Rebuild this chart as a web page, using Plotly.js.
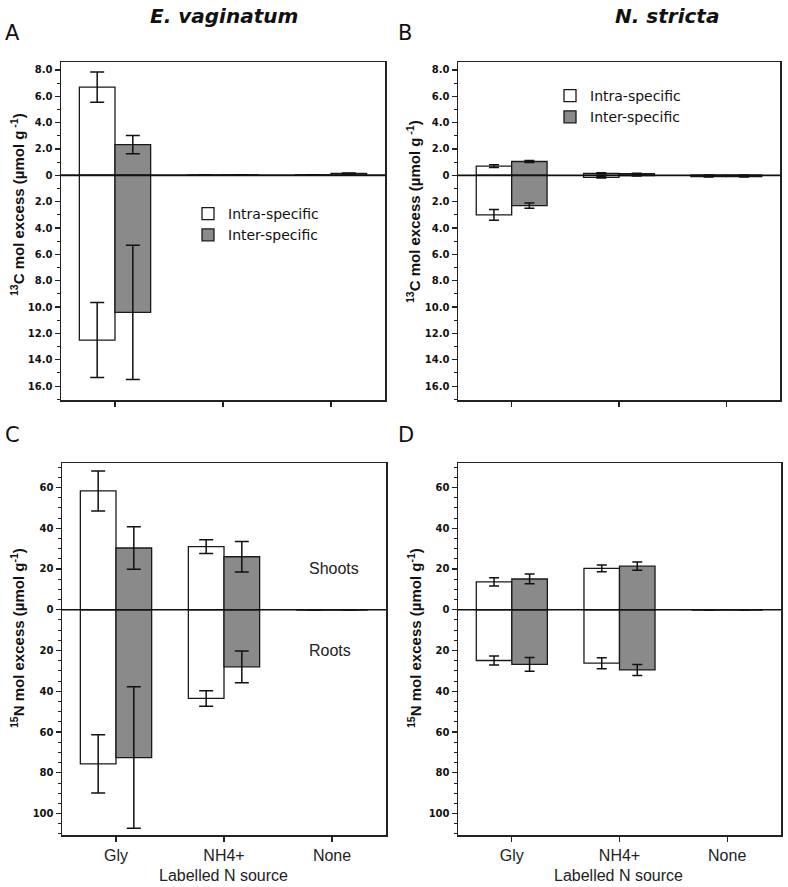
<!DOCTYPE html>
<html>
<head>
<meta charset="utf-8">
<script src="https://cdn.plot.ly/plotly-3.0.1.min.js"></script>
<style>html,body{margin:0;padding:0;background:#fff;}#chart{width:788px;height:887px;}</style>
</head>
<body>
<div id="chart"></div>
<script>
// ---- Data ----
const categories = ['Gly', 'NH4+', 'None'];

// Panel A: E. vaginatum, 13C (µmol g-1); roots drawn downward
const c13EvIntraShoot = [6.7, 0.02, 0.03];
const c13EvIntraShootErr = [1.15, 0.01, 0.01];
const c13EvIntraRoot = [12.5, 0, 0];
const c13EvIntraRootErr = [2.85, 0, 0];
const c13EvInterShoot = [2.33, 0.03, 0.15];
const c13EvInterShootErr = [0.7, 0.02, 0.03];
const c13EvInterRoot = [10.4, 0, 0];
const c13EvInterRootErr = [5.1, 0, 0];

// Panel B: N. stricta, 13C
const c13NsIntraShoot = [0.7, 0.15, 0.02];
const c13NsIntraShootErr = [0.1, 0.05, 0.01];
const c13NsIntraRoot = [3.0, 0.15, 0.1];
const c13NsIntraRootErr = [0.4, 0.05, 0.03];
const c13NsInterShoot = [1.05, 0.12, 0.02];
const c13NsInterShootErr = [0.07, 0.03, 0.01];
const c13NsInterRoot = [2.3, 0.03, 0.1];
const c13NsInterRootErr = [0.2, 0.02, 0.03];

// Panel C: E. vaginatum, 15N
const n15EvIntraShoot = [58.3, 31.0, 0];
const n15EvIntraShootErr = [9.8, 3.4, 0];
const n15EvIntraRoot = [75.6, 43.5, 0];
const n15EvIntraRootErr = [14.3, 3.8, 0];
const n15EvInterShoot = [30.3, 26.0, 0];
const n15EvInterShootErr = [10.4, 7.5, 0];
const n15EvInterRoot = [72.5, 28.0, 0];
const n15EvInterRootErr = [34.7, 7.8, 0];

// Panel D: N. stricta, 15N
const n15NsIntraShoot = [13.7, 20.3, 0];
const n15NsIntraShootErr = [2.0, 1.6, 0];
const n15NsIntraRoot = [24.9, 26.2, 0];
const n15NsIntraRootErr = [2.2, 2.7, 0];
const n15NsInterShoot = [15.1, 21.4, 0];
const n15NsInterShootErr = [2.4, 2.0, 0];
const n15NsInterRoot = [26.8, 29.5, 0];
const n15NsInterRootErr = [3.4, 2.7, 0];

const c13TickVals = [8, 6, 4, 2, 0, -2, -4, -6, -8, -10, -12, -14, -16];
const n15TickVals = [60, 40, 20, 0, -20, -40, -60, -80, -100];

// ---- Helpers ----
const W = 788, H = 887;
const px = x => x / W;
const py = y => 1 - y / H;

const INTRA_FILL = '#ffffff';
const INTER_FILL = '#8a8a8a';
const EDGE = '#1a1a1a';
const BAR_W = 0.33;

function barTrace(xa, ya, vals, errs, down, intra, capW, legend, show) {
  return {
    type: 'bar', x: categories, y: vals.map(v => down ? -v : v),
    xaxis: xa, yaxis: ya,
    width: BAR_W, offset: intra ? -BAR_W : 0,
    base: 0,
    name: intra ? 'Intra-specific' : 'Inter-specific',
    legend: legend, showlegend: show,
    marker: {color: intra ? INTRA_FILL : INTER_FILL, line: {color: EDGE, width: 1.3}},
    error_y: {type: 'data', array: errs, visible: true, color: '#111', thickness: 1.5, width: capW},
    hoverinfo: 'skip'
  };
}

function panel(xa, ya, s) {
  return [
    barTrace(xa, ya, s.is, s.ise, false, true, s.cap, s.legend, s.showLegend),
    barTrace(xa, ya, s.ir, s.ire, true, true, s.cap, s.legend, false),
    barTrace(xa, ya, s.es, s.ese, false, false, s.cap, s.legend, s.showLegend),
    barTrace(xa, ya, s.er, s.ere, true, false, s.cap, s.legend, false)
  ];
}

const data = [].concat(
  panel('x', 'y', {is: c13EvIntraShoot, ise: c13EvIntraShootErr, ir: c13EvIntraRoot, ire: c13EvIntraRootErr,
    es: c13EvInterShoot, ese: c13EvInterShootErr, er: c13EvInterRoot, ere: c13EvInterRootErr, cap: 7, legend: 'legend', showLegend: true}),
  panel('x2', 'y2', {is: c13NsIntraShoot, ise: c13NsIntraShootErr, ir: c13NsIntraRoot, ire: c13NsIntraRootErr,
    es: c13NsInterShoot, ese: c13NsInterShootErr, er: c13NsInterRoot, ere: c13NsInterRootErr, cap: 5, legend: 'legend2', showLegend: true}),
  panel('x3', 'y3', {is: n15EvIntraShoot, ise: n15EvIntraShootErr, ir: n15EvIntraRoot, ire: n15EvIntraRootErr,
    es: n15EvInterShoot, ese: n15EvInterShootErr, er: n15EvInterRoot, ere: n15EvInterRootErr, cap: 7, legend: 'legend', showLegend: false}),
  panel('x4', 'y4', {is: n15NsIntraShoot, ise: n15NsIntraShootErr, ir: n15NsIntraRoot, ire: n15NsIntraRootErr,
    es: n15NsInterShoot, ese: n15NsInterShootErr, er: n15NsInterRoot, ere: n15NsInterRootErr, cap: 5, legend: 'legend', showLegend: false})
);

const tickFont = {family: 'DejaVu Sans', size: 10, weight: 'bold', color: '#111'};

function xAxis(domain, anchor, labels) {
  return {
    domain: domain, anchor: anchor, type: 'category', range: [-0.5, 2.5],
    showticklabels: labels, ticks: 'outside', ticklen: 5, tickwidth: 1.3, tickcolor: '#222',
    tickfont: {family: 'Liberation Sans', size: 16, color: '#222'},
    showline: true, mirror: true, linecolor: '#222', linewidth: 1.5,
    showgrid: false, zeroline: false, fixedrange: true
  };
}
function yAxis(domain, anchor, range, vals, fmt, minorStep) {
  return {
    domain: domain, anchor: anchor, range: range,
    tickmode: 'array', tickvals: vals, ticktext: vals.map(fmt),
    ticks: 'outside', ticklen: 5, tickwidth: 1.3, tickcolor: '#222', tickfont: tickFont,
    minor: {tickmode: 'linear', tick0: 0, dtick: minorStep, ticks: 'outside', ticklen: 3, tickwidth: 1, tickcolor: '#222', showgrid: false},
    showline: true, mirror: true, linecolor: '#222', linewidth: 1.5,
    showgrid: false, zeroline: false, fixedrange: true
  };
}
const fmtC = v => v === 0 ? '0' : Math.abs(v).toFixed(1);
const fmtN = v => String(Math.abs(v));

const topY = [py(400), py(62)];
const botY = [py(835), py(463)];
const leftX = [px(61), px(385)];
const rightX = [px(458), px(780)];

function zeroLine(xref, yref, w) {
  return {type: 'line', xref: xref + ' domain', yref: yref, x0: 0, x1: 1, y0: 0, y1: 0,
    line: {color: '#111', width: w}, layer: 'above'};
}

function ann(text, x, y, opts) {
  return Object.assign({text: text, x: px(x), y: py(y), xref: 'paper', yref: 'paper', showarrow: false,
    xanchor: 'center', yanchor: 'middle'}, opts || {});
}
const titleFont = {family: 'DejaVu Sans', size: 20, weight: 'bold', style: 'italic', color: '#111'};
const letterFont = {family: 'DejaVu Sans', size: 21, color: '#111'};
const yTitleFont = {family: 'Liberation Sans', size: 15, weight: 'bold', color: '#111'};
const xTitleFont = {family: 'Liberation Sans', size: 16, color: '#222'};
const noteFont = {family: 'Liberation Sans', size: 16, color: '#222'};

const c13Title = '<sup>13</sup>C mol excess (µmol g<sup> -1</sup>)';
const n15Title = '<sup>15</sup>N mol excess (µmol g<sup>-1</sup>)';

const layout = {
  width: W, height: H, margin: {l: 0, r: 0, t: 0, b: 0},
  paper_bgcolor: '#fff', plot_bgcolor: '#fff',
  barmode: 'overlay', bargap: 0,
  xaxis: xAxis(leftX, 'y', false),
  yaxis: yAxis(topY, 'x', [-17.05, 8.6], c13TickVals, fmtC, 1),
  xaxis2: xAxis(rightX, 'y2', false),
  yaxis2: yAxis(topY, 'x2', [-17.05, 8.6], c13TickVals, fmtC, 1),
  xaxis3: xAxis([px(62), px(386)], 'y3', true),
  yaxis3: yAxis(botY, 'x3', [-110.5, 72], n15TickVals, fmtN, 5),
  xaxis4: xAxis([px(458), px(781)], 'y4', true),
  yaxis4: yAxis(botY, 'x4', [-110.5, 72], n15TickVals, fmtN, 5),
  legend: {x: px(188), y: py(198), xanchor: 'left', yanchor: 'top', bgcolor: 'rgba(0,0,0,0)',
    font: {family: 'DejaVu Sans', size: 14, color: '#111'}, tracegroupgap: 0, traceorder: 'normal'},
  legend2: {x: px(550), y: py(80), xanchor: 'left', yanchor: 'top', bgcolor: 'rgba(0,0,0,0)',
    font: {family: 'DejaVu Sans', size: 14, color: '#111'}, tracegroupgap: 0, traceorder: 'normal'},
  shapes: [zeroLine('x', 'y', 2), zeroLine('x2', 'y2', 1.8), zeroLine('x3', 'y3', 1.6), zeroLine('x4', 'y4', 1.6)],
  annotations: [
    ann('E. vaginatum', 224, 16, {font: titleFont}),
    ann('N. stricta', 667, 16, {font: titleFont}),
    ann('A', 12, 33, {font: letterFont}),
    ann('B', 405, 33, {font: letterFont}),
    ann('C', 12, 435, {font: letterFont}),
    ann('D', 406, 435, {font: letterFont}),
    ann(c13Title, 17, 205, {font: yTitleFont, textangle: -90}),
    ann(c13Title, 414, 212, {font: yTitleFont, textangle: -90}),
    ann(n15Title, 17, 638, {font: yTitleFont, textangle: -90}),
    ann(n15Title, 414, 638, {font: yTitleFont, textangle: -90}),
    ann('Labelled N source', 223, 875, {font: xTitleFont}),
    ann('Labelled N source', 618, 875, {font: xTitleFont}),
    {text: 'Shoots', x: 1.77, y: 20, xref: 'x3', yref: 'y3', showarrow: false, xanchor: 'left', yanchor: 'middle', font: noteFont},
    {text: 'Roots', x: 1.77, y: -20, xref: 'x3', yref: 'y3', showarrow: false, xanchor: 'left', yanchor: 'middle', font: noteFont}
  ]
};

Plotly.newPlot('chart', data, layout, {staticPlot: true, displayModeBar: false});
</script>
</body>
</html>
